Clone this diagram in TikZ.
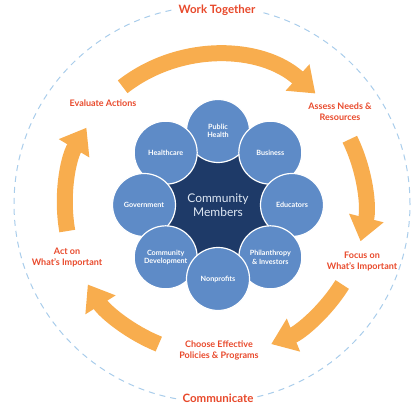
\documentclass[tikz,border=0pt]{standalone}
\usepackage{fontspec}
\setmainfont{Lato}
\usetikzlibrary{arrows.meta,calc}
\definecolor{flowor}{HTML}{F8AD4E}
\definecolor{stagered}{HTML}{E8492B}
\definecolor{memblue}{HTML}{5E8BC7}
\definecolor{coreblue}{HTML}{1E3A68}
\definecolor{ringblue}{HTML}{A9CDEB}
\begin{document}
\begin{tikzpicture}[x=1pt,y=1pt,
  flow/.style={line width=16pt, draw=flowor, -{Triangle[width=34pt,length=24pt]}},
  stage/.style={text=stagered, font=\bfseries\fontsize{9}{11}\selectfont, align=center},
  motto/.style={text=stagered, font=\bfseries\fontsize{11.5}{13}\selectfont, fill=white, inner xsep=4pt},
  member/.style={circle, minimum size=63pt, inner sep=0pt, fill=memblue, draw=white, line width=1.2pt,
    text=white, font=\bfseries\fontsize{7.2}{8.6}\selectfont, align=center}]
\useasboundingbox (0,0) rectangle (414,406);

\coordinate (ring) at (212,202);
\coordinate (c) at (218,201);
\coordinate (loop) at (215,201);

\draw[ringblue, line width=1pt, dash pattern=on 6pt off 5pt] (ring) circle[radius=198pt];
\node[motto] (work) at (217,396) {Work Together};
\node[motto] (comm) at (218,8) {Communicate};

\fill[coreblue] (c) circle[radius=58pt];
\node[member] (health) at ($(c)+(90:74pt)$) {Public\\Health};
\node[member] (hcare) at ($(c)+(135:74pt)$) {Healthcare};
\node[member] (business) at ($(c)+(45:74pt)$) {Business};
\node[member] (educ) at ($(c)+(0:74pt)$) {Educators};
\node[member] (gov) at ($(c)+(180:74pt)$) {Government};
\node[member] (phil) at ($(c)+(-45:74pt)$) {Philanthropy\\\& Investors};
\node[member] (commdev) at ($(c)+(-135:74pt)$) {Community\\Development};
\node[member] (nonprof) at ($(c)+(-90:74pt)$) {Nonprofits};
\node[text=white!80!memblue, font=\fontsize{12}{14.5}\selectfont, align=center] (core) at (c) {Community\\Members};

\node[stage] (eval) at (103,303) {Evaluate Actions};
\node[stage] (assess) at (340,294) {Assess Needs \&\\Resources};
\node[stage] (focus) at (362,144) {Focus on\\What's Important};
\node[stage] (choose) at (219,56) {Choose Effective\\Policies \& Programs};
\node[stage] (act) at (67,148) {Act on\\What's Important};

\coordinate (s1) at ($(loop)+(128:150pt)$);
\coordinate (s2) at ($(loop)+(26:150pt)$);
\coordinate (s3) at ($(loop)+(-32:150pt)$);
\coordinate (s4) at ($(loop)+(-112:150pt)$);
\coordinate (s5) at ($(loop)+(-170:150pt)$);

\draw[flow] (s1) arc[start angle=128, end angle=48, radius=150pt];
\draw[flow] (s2) arc[start angle=26, end angle=-14, radius=150pt];
\draw[flow] (s3) arc[start angle=-32, end angle=-68, radius=150pt];
\draw[flow] (s4) arc[start angle=-112, end angle=-148, radius=150pt];
\draw[flow] (s5) arc[start angle=-170, end angle=-211, radius=150pt];
\end{tikzpicture}
\end{document}
